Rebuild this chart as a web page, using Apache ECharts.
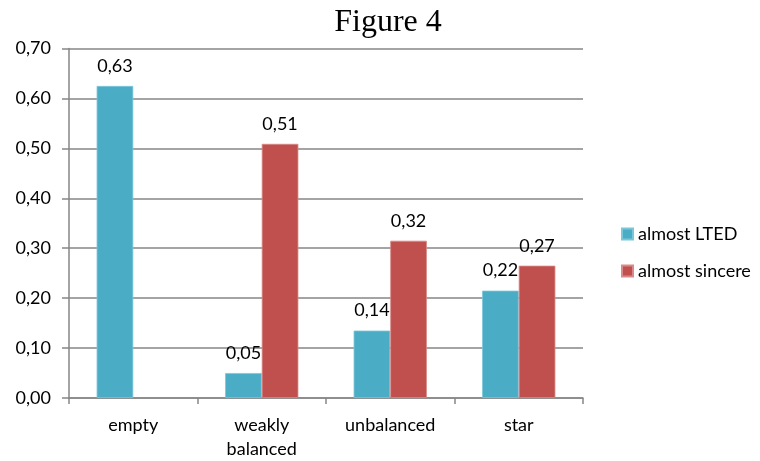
<!DOCTYPE html>
<html>
<head>
<meta charset="utf-8">
<script src="https://cdn.jsdelivr.net/npm/echarts@6/dist/echarts.min.js"></script>
<style>
html,body{margin:0;padding:0;background:#fff;}
#chart{width:760px;height:461px;}
</style>
</head>
<body>
<div id="chart"></div>
<script>
var titleText = 'Figure 4';
var categories = ['empty', 'weakly\nbalanced', 'unbalanced', 'star'];
var seriesNames = ['almost LTED', 'almost sincere'];
var lted = [0.625, 0.05, 0.135, 0.215];
var sincere = [null, 0.509, 0.315, 0.265];
var yTicks = [0, 0.1, 0.2, 0.3, 0.4, 0.5, 0.6, 0.7];

function fmt(v) {
  return (Math.round(v * 100 + 1e-9) / 100).toFixed(2).replace('.', ',');
}

var font = 'Lato';
var chart = echarts.init(document.getElementById('chart'), null, {renderer: 'canvas'});
var labelCfg = {
  show: true,
  position: 'top',
  distance: 11,
  color: '#000',
  fontFamily: font,
  fontSize: 18,
  formatter: function (p) { return p.value == null ? '' : fmt(p.value); }
};
chart.setOption({
  animation: false,
  backgroundColor: '#fff',
  title: {
    text: titleText,
    left: 383,
    textAlign: 'center',
    top: 2,
    textStyle: {fontFamily: 'Liberation Serif', fontWeight: 'normal', fontSize: 32, color: '#000'}
  },
  legend: {
    orient: 'vertical',
    left: 616,
    top: 220,
    itemWidth: 11,
    itemHeight: 11,
    itemGap: 19,
    icon: 'rect',
    data: seriesNames,
    textStyle: {fontFamily: font, fontSize: 18, color: '#000'}
  },
  grid: {left: 69, right: 177, top: 48.5, bottom: 62.5, containLabel: false},
  xAxis: {
    type: 'category',
    data: categories,
    axisLine: {lineStyle: {color: '#868686', width: 1.5}},
    axisTick: {show: true, length: 6, lineStyle: {color: '#868686', width: 1.5}},
    axisLabel: {fontFamily: font, fontSize: 18, color: '#000', margin: 15, lineHeight: 24, interval: 0}
  },
  yAxis: {
    type: 'value',
    min: 0,
    max: 0.7,
    interval: 0.1,
    axisLine: {show: true, lineStyle: {color: '#868686', width: 1.5}},
    axisTick: {show: true, length: 7, lineStyle: {color: '#868686', width: 1.5}},
    splitLine: {show: true, lineStyle: {color: '#868686', width: 1.5}},
    axisLabel: {
      fontFamily: font, fontSize: 18, color: '#000', margin: 18,
      formatter: function (v) { return v.toFixed(2).replace('.', ','); }
    }
  },
  series: [
    {
      name: seriesNames[0], type: 'bar', data: lted,
      barGap: '0%', barCategoryGap: '43%',
      itemStyle: {color: '#4BACC6', borderColor: '#7cc6da', borderWidth: 0.8},
      label: labelCfg
    },
    {
      name: seriesNames[1], type: 'bar', data: sincere,
      barGap: '0%', barCategoryGap: '43%',
      itemStyle: {color: '#C0504D', borderColor: '#d98a88', borderWidth: 0.8},
      label: labelCfg
    }
  ]
});
</script>
</body>
</html>
